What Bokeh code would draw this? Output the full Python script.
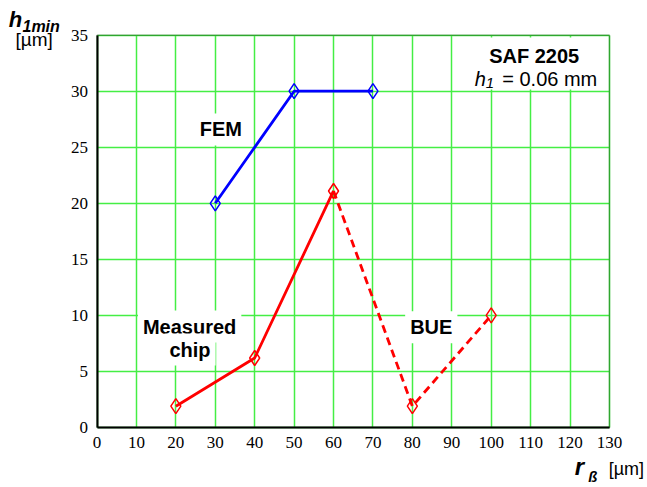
from bokeh.plotting import figure
from bokeh.models import Range1d, Label, BoxAnnotation, FixedTicker, LinearAxis, Grid
from bokeh.embed import file_html
from bokeh.resources import INLINE

# ---- data ----
fem_x = [30, 50, 70]
fem_y = [20, 30, 30]
meas_x = [20, 40, 60]
meas_y = [1.9, 6.2, 21.1]
bue_x = [60, 80, 100]
bue_y = [21.1, 1.9, 10.0]
x_ticks = list(range(0, 131, 10))
y_ticks = list(range(0, 36, 5))

SANS = "Liberation Sans"
SERIF = "Liberation Serif"
GRID = "#44ee44"

W, H = 645, 485
X0, SX = 96.5, 3.942      # pixel of x=0, px per unit
Y0, SY = 427.0, 11.21     # pixel of y=0, px per unit

p = figure(width=W, height=H, output_backend="svg", toolbar_location=None,
           x_range=Range1d(-X0 / SX, (W - X0) / SX),
           y_range=Range1d(-(H - Y0) / SY, Y0 / SY),
           x_axis_location=None, y_axis_location=None,
           min_border=0, min_border_left=0, min_border_right=0,
           min_border_top=0, min_border_bottom=0)
p.background_fill_color = "white"
p.border_fill_color = "white"
p.outline_line_color = None
p.grid.visible = False

xax = LinearAxis(fixed_location=0, bounds=(0, 130), ticker=FixedTicker(ticks=x_ticks))
yax = LinearAxis(fixed_location=0, bounds=(0, 35), ticker=FixedTicker(ticks=y_ticks))
for ax in (xax, yax):
    ax.major_tick_line_color = None
    ax.minor_tick_line_color = None
    ax.axis_line_color = "black"
    ax.axis_line_width = 2
    ax.major_label_text_font = SERIF
    ax.major_label_text_font_size = "17px"
    ax.major_label_text_color = "black"
xax.major_label_standoff = 3
yax.major_label_standoff = 3
p.add_layout(xax, "below")
p.add_layout(yax, "left")

has_cross = "cross_bounds" in Grid.properties()
xg = Grid(dimension=0, ticker=FixedTicker(ticks=x_ticks), bounds=(0, 130))
yg = Grid(dimension=1, ticker=FixedTicker(ticks=y_ticks), bounds=(0, 35))
if has_cross:
    xg.cross_bounds = (0, 35)
    yg.cross_bounds = (0, 130)
for g in (xg, yg):
    g.grid_line_color = GRID
    g.grid_line_width = 1.5
    g.level = "image"
if has_cross:
    p.add_layout(xg)
    p.add_layout(yg)
else:
    p.segment(x0=x_ticks, y0=[0] * len(x_ticks), x1=x_ticks, y1=[35] * len(x_ticks),
              line_color=GRID, line_width=1.5, level="image")
    p.segment(x0=[0] * len(y_ticks), y0=y_ticks, x1=[130] * len(y_ticks), y1=y_ticks,
              line_color=GRID, line_width=1.5, level="image")

# white box behind the top-right annotation
p.add_layout(BoxAnnotation(left=93, right=128.3, bottom=30.15, top=34.8,
                           fill_color="white", fill_alpha=1, line_alpha=0, level="underlay"))

# plot frame
p.add_layout(BoxAnnotation(left=0, right=130, bottom=0, top=35, fill_alpha=0,
                           line_color="black", line_width=1.5, level="overlay"))

# series
p.line(fem_x, fem_y, line_color="#0000ff", line_width=2.8)
p.scatter(fem_x, fem_y, marker="diamond", size=15, line_color="#0000ff",
          line_width=1.5, fill_alpha=0)
p.line(meas_x, meas_y, line_color="#ff0000", line_width=2.8)
p.line(bue_x, bue_y, line_color="#ff0000", line_width=2.8, line_dash="8 5")
p.scatter(meas_x + bue_x[1:], meas_y + bue_y[1:], marker="diamond", size=15,
          line_color="#ff0000", line_width=1.5, fill_alpha=0)


def lab(text, x, y, size, style="normal", align="left", bg=False, font=SANS):
    fs = float(size.replace("px", ""))
    y = y + 0.3 * fs / SY   # compensate baseline placement
    kw = {}
    if bg:
        kw = dict(background_fill_color="white", background_fill_alpha=1, padding=5)
    p.add_layout(Label(x=x, y=y, text=text, text_font=font, text_font_size=size,
                       text_font_style=style, text_align=align,
                       text_baseline="alphabetic", text_color="black", **kw))


lab("FEM", 31.4, 26.05, "20px", "bold", "center", bg=True)
lab("Measured", 23.5, 8.47, "20px", "bold", "center", bg=True)
lab("chip", 23.6, 6.42, "20px", "bold", "center", bg=True)
lab("BUE", 84.8, 8.41, "20px", "bold", "center", bg=True)
lab("SAF 2205", 110.9, 32.59, "20px", "bold", "center")
lab("h", 95.8, 30.51, "20px", "italic")
lab("1", 98.6, 30.30, "15px", "italic")
lab("= 0.06 mm", 102.8, 30.51, "20px", "normal")

# axis titles
lab("h", -22.4, 35.77, "22px", "bold italic")
lab("1min", -18.9, 35.33, "16px", "bold italic")
lab("[µm]", -20.7, 34.08, "19px")
lab("r", 121.2, -4.13, "24px", "bold italic")
lab("ß", 124.6, -4.75, "15px", "bold italic")
lab("[µm]", 129.8, -4.22, "18px")

open("out.html", "w").write(file_html(p, INLINE))
